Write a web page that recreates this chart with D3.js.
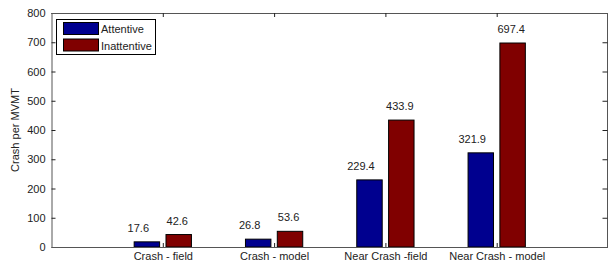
<!DOCTYPE html>
<html><head><meta charset="utf-8">
<script src="https://cdn.jsdelivr.net/npm/d3@7"></script>
<style>body{margin:0;background:#fff}svg{display:block}text{font-family:"Liberation Sans",Arial,sans-serif}</style>
</head><body>
<script>
const categories = ["Crash - field", "Crash - model", "Near Crash -field", "Near Crash - model"];
const attentive = [17.6, 26.8, 229.4, 321.9];
const inattentive = [42.6, 53.6, 433.9, 697.4];
const seriesNames = ["Attentive", "Inattentive"];
const seriesColors = ["#00008F", "#800000"];
const yTicks = [0, 100, 200, 300, 400, 500, 600, 700, 800];
const yLabel = "Crash per MVMT";

const W = 608, H = 263;
const L = 51.5, R = 608, T = 13, B = 247;
const svg = d3.select("body").append("svg").attr("width", W).attr("height", H);

const x = d3.scaleLinear().domain([0, categories.length + 1]).range([L, R]);
const y = d3.scaleLinear().domain([0, 800]).range([B, T]);
const barW = 0.2286, off = 0.143;
const axisColor = "#555";

// bars
const series = [attentive, inattentive];
series.forEach((vals, s) => {
  const o = s === 0 ? -off : off;
  svg.append("g").selectAll("rect").data(vals).join("rect")
    .attr("x", (d, i) => x(i + 1 + o - barW / 2))
    .attr("width", x(barW) - x(0))
    .attr("y", d => y(d))
    .attr("height", d => y(0) - y(d))
    .attr("fill", seriesColors[s])
    .attr("stroke", "#000").attr("stroke-width", 1);
  const lo = s === 0 ? -0.22 : 0.13;
  svg.append("g").selectAll("text").data(vals).join("text")
    .attr("x", (d, i) => x(i + 1 + lo))
    .attr("y", d => y(d) - 10)
    .attr("text-anchor", "middle")
    .attr("font-size", 11).attr("fill", "#222")
    .text(d => d.toFixed(1));
});

// axes box
const yAxisL = d3.axisLeft(y).tickValues(yTicks).tickSize(-4).tickPadding(6);
const gL = svg.append("g").attr("transform", `translate(${L},0)`).call(yAxisL);
const yAxisR = d3.axisRight(y).tickValues(yTicks).tickSize(-5).tickFormat("");
const gR = svg.append("g").attr("transform", `translate(${R - 0.5},0)`).call(yAxisR);
const xt = categories.map((c, i) => i + 1);
const xAxisB = d3.axisBottom(x).tickValues(xt).tickSize(-4).tickPadding(5).tickFormat((d, i) => categories[i]);
const gB = svg.append("g").attr("transform", `translate(0,${B})`).call(xAxisB);
const xAxisT = d3.axisTop(x).tickValues(xt).tickSize(-4).tickFormat("");
const gT = svg.append("g").attr("transform", `translate(0,${T})`).call(xAxisT);
[gL, gR, gB, gT].forEach(g => {
  g.selectAll(".domain").attr("stroke", axisColor);
  g.selectAll(".tick line").attr("stroke", "#222");
  g.selectAll("text").attr("font-size", 11).attr("fill", "#222").attr("font-family", "Liberation Sans, Arial, sans-serif");
});
gL.selectAll(".domain").attr("d", `M0.5,${T}V${B}`);
gR.selectAll(".domain").attr("d", `M0,${T}V${B}`);
gB.selectAll(".domain").attr("d", `M${L},0.5H${R}`);
gT.selectAll(".domain").attr("d", `M${L},0.5H${R}`);

// y label
svg.append("text").attr("transform", `translate(19,${(T + B) / 2}) rotate(-90)`)
  .attr("text-anchor", "middle").attr("font-size", 11).attr("fill", "#222").text(yLabel);

// legend
const lg = svg.append("g");
lg.append("rect").attr("x", 56.5).attr("y", 19.5).attr("width", 99).attr("height", 35)
  .attr("fill", "#fff").attr("stroke", "#000");
seriesNames.forEach((n, i) => {
  lg.append("rect").attr("x", 63.5).attr("y", 22.5 + i * 16.5).attr("width", 35).attr("height", 12)
    .attr("fill", seriesColors[i]).attr("stroke", "#000");
  lg.append("text").attr("x", 101).attr("y", 33 + i * 16.5).attr("font-size", 11).attr("fill", "#222").text(n);
});
</script>
</body></html>
